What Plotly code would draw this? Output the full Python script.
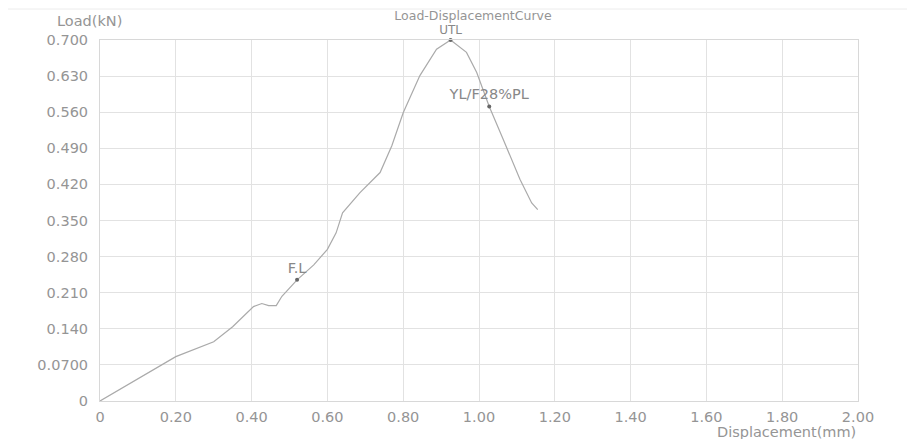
import plotly.graph_objects as go

# Curve data (displacement mm, load kN)
displacement = [0.0, 0.10, 0.20, 0.30, 0.35, 0.405, 0.427, 0.445, 0.465, 0.48, 0.52, 0.564, 0.60, 0.623,
                0.64, 0.686, 0.739, 0.77, 0.80, 0.844, 0.888, 0.925, 0.967, 0.994, 1.027, 1.064,
                1.108, 1.139, 1.155]
load = [0.0, 0.043, 0.086, 0.115, 0.144, 0.183, 0.189, 0.185, 0.185, 0.203, 0.235, 0.264, 0.294, 0.326,
        0.365, 0.404, 0.443, 0.495, 0.559, 0.631, 0.682, 0.700, 0.676, 0.637, 0.571, 0.507,
        0.430, 0.384, 0.371]

# Marked points
point_names = ["F.L", "UTL", "YL/F28%PL"]
point_x = [0.52, 0.925, 1.027]
point_y = [0.235, 0.700, 0.571]

x_ticks = [0, 0.2, 0.4, 0.6, 0.8, 1.0, 1.2, 1.4, 1.6, 1.8, 2.0]
x_tick_labels = ["0", "0.20", "0.40", "0.60", "0.80", "1.00", "1.20", "1.40", "1.60", "1.80", "2.00"]
y_ticks = [0, 0.07, 0.14, 0.21, 0.28, 0.35, 0.42, 0.49, 0.56, 0.63, 0.70]
y_tick_labels = ["0", "0.0700", "0.140", "0.210", "0.280", "0.350", "0.420", "0.490", "0.560", "0.630", "0.700"]

txt = "#959595"
font = "DejaVu Sans, Verdana, sans-serif"
fs = 14.5

fig = go.Figure()
fig.add_trace(go.Scatter(x=displacement, y=load, mode="lines",
                         line=dict(color="#aaaaaa", width=1.2), showlegend=False, hoverinfo="skip"))
fig.add_trace(go.Scatter(x=point_x, y=point_y, mode="markers+text", text=point_names,
                         textposition=["top center", "top center", "top center"],
                         textfont=dict(color="#888888", size=[fs, 12, fs], family=font),
                         marker=dict(color="#666666", size=4), showlegend=False, cliponaxis=False))

fig.update_layout(
    width=915, height=439,
    margin=dict(l=92, r=65, t=32, b=46),
    paper_bgcolor="white", plot_bgcolor="white",
    font=dict(family=font, color=txt, size=fs),
    title=dict(text="Load-DisplacementCurve", x=(473 - 8) / 915, xanchor="center", y=1 - 8 / 439,
               yanchor="middle", font=dict(size=12.5, color=txt, family=font)),
    xaxis=dict(range=[0, 2.0], tickvals=x_ticks, ticktext=x_tick_labels, showgrid=True,
               gridcolor="#e2e2e2", gridwidth=1, zeroline=False, showline=True, linecolor="#d8d8d8",
               mirror=True, ticks="", tickfont=dict(size=fs, color=txt), ticklabelstandoff=3),
    yaxis=dict(range=[0, 0.7], tickvals=y_ticks, ticktext=y_tick_labels, showgrid=True,
               gridcolor="#e2e2e2", gridwidth=1, zeroline=False, showline=True, linecolor="#d8d8d8",
               mirror=True, ticks="", tickfont=dict(size=fs, color=txt), ticklabelstandoff=8),
    annotations=[
        dict(text="Load(kN)", xref="paper", yref="paper", x=-45 / 758, y=1 + 19 / 361,
             xanchor="left", yanchor="middle", showarrow=False, font=dict(size=fs, color=txt)),
        dict(text="Displacement(mm)", xref="paper", yref="paper", x=1.0, y=-31 / 361,
             xanchor="right", yanchor="middle", showarrow=False, font=dict(size=fs, color=txt)),
    ],
    shapes=[dict(type="line", xref="paper", yref="paper", x0=-92 / 758, x1=1 + 65 / 758,
                 y0=1 + 31 / 361, y1=1 + 31 / 361, line=dict(color="#ececec", width=1))],
)

fig.write_html("out.html")
